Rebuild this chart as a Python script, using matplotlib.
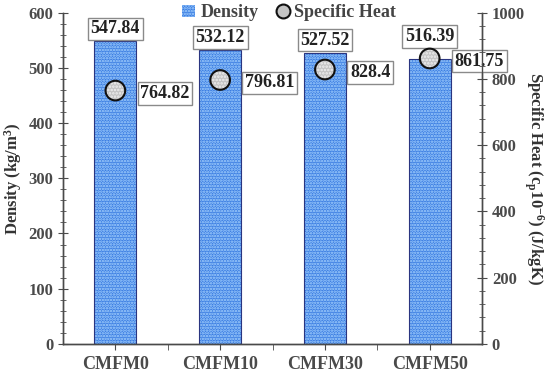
import numpy as np
import matplotlib
matplotlib.use('Agg')
import matplotlib.pyplot as plt
from matplotlib.patches import Patch
from matplotlib.lines import Line2D
from matplotlib.ticker import MultipleLocator

plt.rcParams['font.family'] = ['Liberation Serif', 'DejaVu Serif']
plt.rcParams['font.weight'] = 'bold'
plt.rcParams['mathtext.default'] = 'regular'
plt.rcParams['hatch.linewidth'] = 1.2

# data
categories = ['CMFM0', 'CMFM10', 'CMFM30', 'CMFM50']
density = [547.84, 532.12, 527.52, 516.39]
specific_heat = [764.82, 796.81, 828.4, 861.75]

tick_col = '#4a4a4a'
bar_col = '#3c7ee2'
dot_col = '#a8d4ff'
x = np.arange(len(categories))

fig = plt.figure(figsize=(5.5, 3.73), dpi=100)
ax = fig.add_axes([0.1145, 0.078, 0.762, 0.888])
ax2 = ax.twinx()

# bars: hatched fill + outline
ax.bar(x, density, width=0.4, color=bar_col, edgecolor=dot_col, hatch='......', linewidth=0, zorder=2)
ax.bar(x, density, width=0.4, fill=False, edgecolor='#2a3580', linewidth=0.8, zorder=2)

# density labels; the last one is lifted clear of its marker
for i, (xi, d) in enumerate(zip(x, density)):
    dy = 10 if i == len(x) - 1 else 3
    ax.annotate(f'{d:.2f}', (xi, d), xytext=(0, dy), textcoords='offset points',
                ha='center', va='bottom', fontsize=13, fontweight='bold', color='#222222',
                bbox=dict(boxstyle='square,pad=0.15', fc='white', ec='#8a8a8a', lw=1.0))

# specific heat markers
ax2.scatter(x, specific_heat, s=200, facecolor='#c4c4c4', edgecolor='#f0f0f0', hatch='.....',
            linewidths=0, zorder=4)
ax2.scatter(x, specific_heat, s=200, facecolor='none', edgecolor='#111111', linewidths=1.5, zorder=5)
for xi, c in zip(x, specific_heat):
    ax2.annotate(f'{c:g}', (xi, c), xytext=(18, -2), textcoords='offset points',
                 ha='left', va='center', fontsize=13, fontweight='bold', color='#222222',
                 bbox=dict(boxstyle='square,pad=0.15', fc='white', ec='#8a8a8a', lw=1.0),
                 zorder=1)

ax.set_xlim(-0.5, 3.5)
ax.set_ylim(0, 600)
ax2.set_ylim(0, 1000)

ax.set_xticks(x)
ax.set_xticklabels(categories)
ax.set_xticks([0.5, 1.5, 2.5], minor=True)
ax.yaxis.set_major_locator(MultipleLocator(100))
ax.yaxis.set_minor_locator(MultipleLocator(20))
ax2.yaxis.set_major_locator(MultipleLocator(200))
ax2.yaxis.set_minor_locator(MultipleLocator(40))

for a in (ax, ax2):
    a.spines['top'].set_visible(False)
    for s in a.spines.values():
        s.set_color(tick_col)
        s.set_linewidth(1.0)

ax.tick_params(axis='x', which='both', direction='out', length=4, colors=tick_col,
               labelsize=13, pad=5)
ax.tick_params(axis='y', which='major', direction='inout', length=7, colors=tick_col, labelsize=12)
ax.tick_params(axis='y', which='minor', direction='inout', length=4, colors=tick_col)
ax2.tick_params(axis='y', which='major', direction='inout', length=7, colors=tick_col, labelsize=12)
ax2.tick_params(axis='y', which='minor', direction='inout', length=4, colors=tick_col)
for lbl in ax.get_xticklabels() + ax.get_yticklabels() + ax2.get_yticklabels():
    lbl.set_fontweight('bold')

ax.set_ylabel('Density (kg/m$^{3}$)', fontsize=12, fontweight='bold', color='#333333', labelpad=3)
ax2.set_ylabel('Specific Heat (c$_{p}$10$^{-6}$) (J/kgK)', fontsize=12, fontweight='bold',
               color='#333333', rotation=270, labelpad=15)

handles = [Patch(facecolor=bar_col, edgecolor=dot_col, hatch='......', linewidth=0),
           Line2D([], [], linestyle='none', marker='o', markersize=10, markerfacecolor='#c4c4c4',
                  markeredgecolor='#111111', markeredgewidth=1.5)]
leg = ax.legend(handles, ['Density', 'Specific Heat'], loc='center', bbox_to_anchor=(0.54, 1.0),
                ncol=2, frameon=False, fontsize=13, handlelength=0.7, handletextpad=0.3,
                columnspacing=1.0, borderaxespad=0)
for t in leg.get_texts():
    t.set_color('#444444')
    t.set_fontweight('bold')
leg.set_zorder(10)

fig.savefig('out.png', dpi=100)
